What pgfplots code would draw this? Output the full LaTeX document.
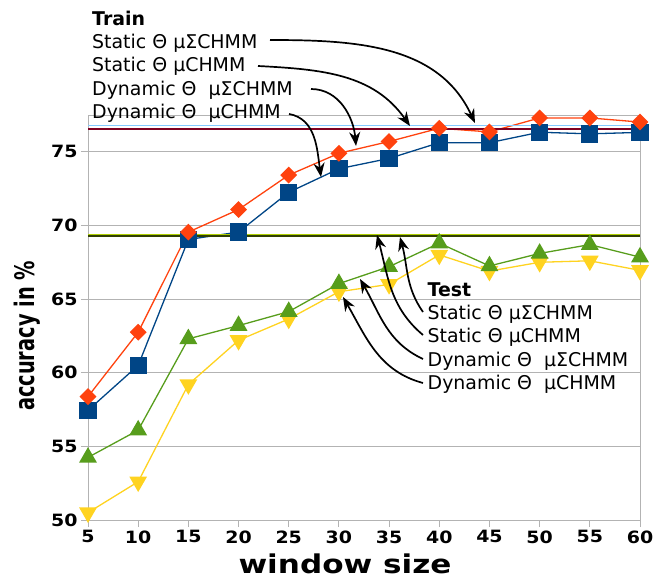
\documentclass[border=0pt]{standalone}
\usepackage{pgfplots}
\pgfplotsset{compat=1.18}
\usepackage{fontspec}
\setmainfont{DejaVu Sans}
\newfontfamily\ylabfont[FakeStretch=0.72]{DejaVu Sans}
\newfontfamily\tickfont[FakeStretch=1.12]{DejaVu Sans}
\newfontfamily\xlabfont[FakeStretch=1.2]{DejaVu Sans}
\usetikzlibrary{arrows.meta}
\definecolor{cBlue}{HTML}{004586}
\definecolor{cOrange}{HTML}{FF420E}
\definecolor{cYellow}{HTML}{FFD320}
\definecolor{cGreen}{HTML}{579D1C}
\definecolor{cMaroon}{HTML}{7E0021}
\definecolor{cLightBlue}{HTML}{83CAFF}
\definecolor{cOlive}{HTML}{314004}
\definecolor{cLime}{HTML}{AECF00}
\definecolor{cGrid}{HTML}{B3B3B3}
\begin{document}
\begin{tikzpicture}
\path[use as bounding box] (0bp,0bp) rectangle (653bp,-578bp);
\begin{axis}[
  at={(88bp,-520bp)}, anchor=south west,
  scale only axis, width=552bp, height=405bp,
  xmin=5, xmax=60, ymin=50, ymax=77.5,
  xtick={5,10,...,60}, ytick={50,55,...,75},
  xtick pos=bottom, ytick pos=left,
  tick align=outside, major tick length=7bp,
  ymajorgrids, grid style={color=cGrid, line width=1bp},
  axis line style={color=cGrid, line width=1bp},
  every tick/.style={color=cGrid, line width=1bp},
  ticklabel style={font=\tickfont\bfseries\fontsize{17}{17}\selectfont, text=black},
  /pgf/number format/assume math mode=true,
  clip=false,
]
\addplot[color=cYellow, line width=1.3bp, mark=triangle*, mark size=9bp, mark options={rotate=180, fill=cYellow, draw=cYellow}] coordinates {
(5,50.5) (10,52.6) (15,59.2) (20,62.2) (25,63.65) (30,65.5) (35,66.0) (40,68.0) (45,66.9) (50,67.5) (55,67.6) (60,66.95)};
\addplot[color=cGreen, line width=1.3bp, mark=triangle*, mark size=9bp, mark options={fill=cGreen, draw=cGreen}] coordinates {
(5,54.25) (10,56.1) (15,62.3) (20,63.2) (25,64.15) (30,66.05) (35,67.2) (40,68.8) (45,67.25) (50,68.1) (55,68.7) (60,67.85)};
\addplot[color=cBlue, line width=1.3bp, mark=square*, mark size=8bp, mark options={fill=cBlue, draw=cBlue}] coordinates {
(5,57.45) (10,60.5) (15,69.05) (20,69.55) (25,72.25) (30,73.85) (35,74.55) (40,75.62) (45,75.62) (50,76.33) (55,76.22) (60,76.32)};
\addplot[color=cOrange, line width=1.3bp, mark=square*, mark size=5.3bp, mark options={rotate=45, fill=cOrange, draw=cOrange}] coordinates {
(5,58.38) (10,62.75) (15,69.55) (20,71.08) (25,73.42) (30,74.9) (35,75.7) (40,76.6) (45,76.35) (50,77.3) (55,77.3) (60,77.02)};
\addplot[color=cLightBlue, line width=1.5bp] coordinates {(5,76.8) (60,76.8)};
\addplot[color=cMaroon, line width=1.5bp] coordinates {(5,76.56) (60,76.56)};
\addplot[color=cOlive, line width=1.5bp] coordinates {(5,69.3) (60,69.3)};
\addplot[color=cLime, line width=1.5bp] coordinates {(5,69.4) (60,69.4)};
\end{axis}
\begin{scope}[x=1bp, y=1bp]
\tikzset{ann/.style={line width=1.7bp, -{Stealth[length=14bp,width=11bp]}},
  lab/.style={anchor=base west, inner sep=0pt, font=\fontsize{19}{19}\selectfont}}
% axis labels
\node[anchor=base, inner sep=0pt, font=\xlabfont\bfseries\fontsize{26}{26}\selectfont] at (345,-573) {window size};
\node[rotate=90, anchor=base, inner sep=0pt, font=\ylabfont\bfseries\fontsize{27}{27}\selectfont] at (34,-336) {accuracy in \%};
% Train
\node[lab, font=\bfseries\fontsize{19}{19}\selectfont] at (92,-25) {Train};
\node[lab] at (92,-48) {Static Θ μΣCHMM};
\node[lab] at (92,-71.5) {Static Θ μCHMM};
\node[lab] at (92,-95) {Dynamic Θ\ \ μΣCHMM};
\node[lab] at (92,-118) {Dynamic Θ\ \ μCHMM};
\draw[ann] (270,-40) to[out=0,in=115] (475,-123);
\draw[ann] (258,-66) to[out=-3,in=125] (410,-126);
\draw[ann] (311,-89) to[out=0,in=95] (356,-146);
\draw[ann] (289,-114) to[out=-10,in=98] (321,-177);
% Test
\node[lab, font=\bfseries\fontsize{19}{19}\selectfont] at (427.5,-296) {Test};
\node[lab] at (427.5,-319) {Static Θ μΣCHMM};
\node[lab] at (427.5,-342.5) {Static Θ μCHMM};
\node[lab] at (427.5,-366.5) {Dynamic Θ\ \ μΣCHMM};
\node[lab] at (427.5,-389) {Dynamic Θ\ \ μCHMM};
\draw[ann] (423,-312) to[out=125,in=-75] (400,-237);
\draw[ann] (423,-335) to[out=140,in=-75] (377,-235);
\draw[ann] (423,-359) to[out=155,in=-60] (360,-279);
\draw[ann] (423,-383) to[out=165,in=-60] (343,-297);
\end{scope}
\end{tikzpicture}
\end{document}
